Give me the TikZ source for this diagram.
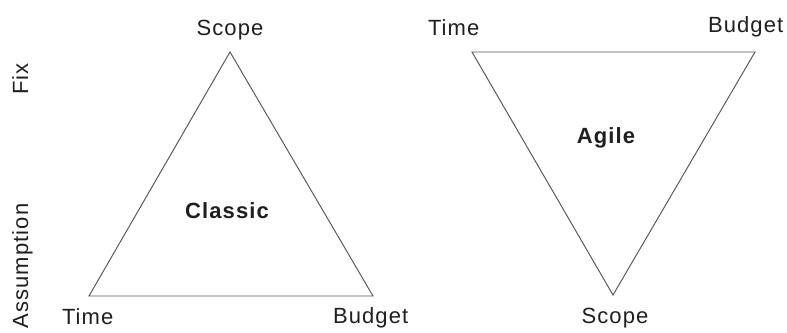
\documentclass[tikz,border=0pt]{standalone}
\usepackage{fontspec}
\setmainfont{Liberation Sans}[LetterSpace=5]
\begin{document}
\begin{tikzpicture}[x=1pt,y=-1pt,
  lbl/.style={inner sep=0pt,outer sep=0pt,text=black!88,font=\fontsize{22}{26}\selectfont},
  ttl/.style={lbl,font=\fontsize{22}{26}\selectfont\bfseries},
  edge/.style={draw={rgb,255:red,85;green,85;blue,85},line width=0.95pt,line join=miter}]
\useasboundingbox (0,0) rectangle (787,332);
\fill[white] (0,0) rectangle (787,332);
% left triangle
\coordinate (lt) at (89,296);
\coordinate (ls) at (230,52);
\coordinate (lb) at (373,296);
\draw[edge] (lt) -- (ls) -- (lb) -- cycle;
% right triangle
\coordinate (rt) at (472,52);
\coordinate (rb) at (755,52);
\coordinate (rs) at (613,295);
\draw[edge] (rt) -- (rb) -- (rs) -- cycle;
% labels
\node[lbl,anchor=base] (scopeL) at (230,35) {Scope};
\node[lbl,anchor=base west] (timeL) at (62,324) {Time};
\node[lbl,anchor=base west] (budgetL) at (333,323) {Budget};
\node[ttl,anchor=base] (classic) at (227,218) {Classic};
\node[lbl,anchor=base west] (timeR) at (428,35) {Time};
\node[lbl,anchor=base west] (budgetR) at (708,32) {Budget};
\node[ttl,anchor=base] (agile) at (606,143) {Agile};
\node[lbl,anchor=base] (scopeR) at (615,323) {Scope};
\node[lbl,anchor=base,rotate=90] (fix) at (28,79) {Fix};
\node[lbl,anchor=base,rotate=90] (assump) at (28,266) {Assumption};
\end{tikzpicture}
\end{document}
